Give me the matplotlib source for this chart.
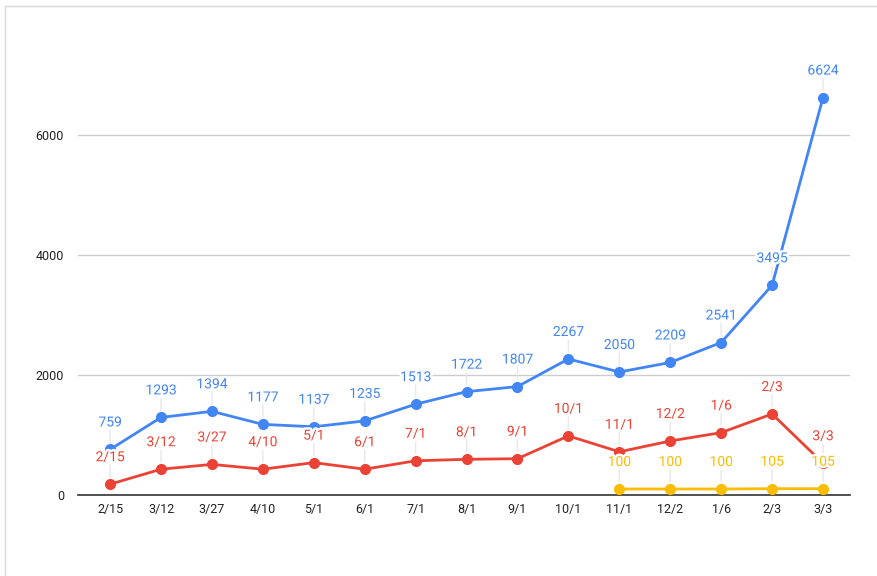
import matplotlib
matplotlib.use("Agg")
import matplotlib.pyplot as plt
import matplotlib.patheffects as pe
from matplotlib.lines import Line2D

categories = ["2/15", "3/12", "3/27", "4/10", "5/1", "6/1", "7/1", "8/1", "9/1",
              "10/1", "11/1", "12/2", "1/6", "2/3", "3/3"]
blue_values = [759, 1293, 1394, 1177, 1137, 1235, 1513, 1722, 1807, 2267, 2050, 2209, 2541, 3495, 6624]
red_values = [180, 430, 510, 430, 540, 430, 570, 595, 605, 985, 720, 900, 1040, 1350, 530]
yellow_start = 10
yellow_values = [100, 100, 100, 105, 105]
yticks = [0, 2000, 4000, 6000]

BLUE = "#4285F4"
RED = "#EA4335"
YELLOW = "#FBBC04"

plt.rcParams['font.family'] = ['Roboto', 'DejaVu Sans']

fig = plt.figure(figsize=(8.78, 5.76), dpi=100)
ax = fig.add_axes([78/878, 1-495/576, (850-78)/878, (495-60)/576])

x = list(range(len(categories)))
yx = x[yellow_start:]

halo = [pe.withStroke(linewidth=3.5, foreground="white")]

def plot_series(xs, ys, labels, color, z):
    ax.plot(xs, ys, color=color, lw=2, marker='o', ms=7, zorder=z, clip_on=False)
    for xi, yi, lab in zip(xs, ys, labels):
        ax.annotate(str(lab), (xi, yi), xytext=(0, 27), textcoords='offset pixels',
                    ha='center', va='center', fontsize=10, color=color,
                    path_effects=halo, zorder=6, annotation_clip=False)
        ax.annotate("", (xi, yi), xytext=(0, 19), textcoords='offset pixels',
                    arrowprops=dict(arrowstyle='-', color='#e8e8e8', lw=1,
                                    shrinkA=0, shrinkB=5), zorder=2,
                    annotation_clip=False)

plot_series(x, blue_values, blue_values, BLUE, 4)
plot_series(x, red_values, categories, RED, 3)
plot_series(yx, yellow_values, yellow_values, YELLOW, 3.5)

ax.set_xlim(-0.63, len(categories) - 1 + 0.53)
ax.set_ylim(0, 7250)
ax.set_yticks(yticks)
ax.set_yticklabels([str(t) for t in yticks])
ax.set_xticks(x)
ax.set_xticklabels(categories)
ax.grid(axis='y', color='#cccccc', lw=1)
ax.set_axisbelow(True)
for s in ['top', 'right', 'left']:
    ax.spines[s].set_visible(False)
ax.spines['bottom'].set_color('#333333')
ax.spines['bottom'].set_linewidth(1.2)
ax.tick_params(axis='both', length=0, labelsize=9, colors='#222222')
ax.tick_params(axis='y', pad=10)
ax.tick_params(axis='x', pad=6)

# card border
fig.add_artist(Line2D([5/878, 1], [1-6/576, 1-6/576], color='#d9d9d9', lw=1))
fig.add_artist(Line2D([5/878, 5/878], [0, 1-6/576], color='#d9d9d9', lw=1))

fig.savefig("out.png", dpi=100)
